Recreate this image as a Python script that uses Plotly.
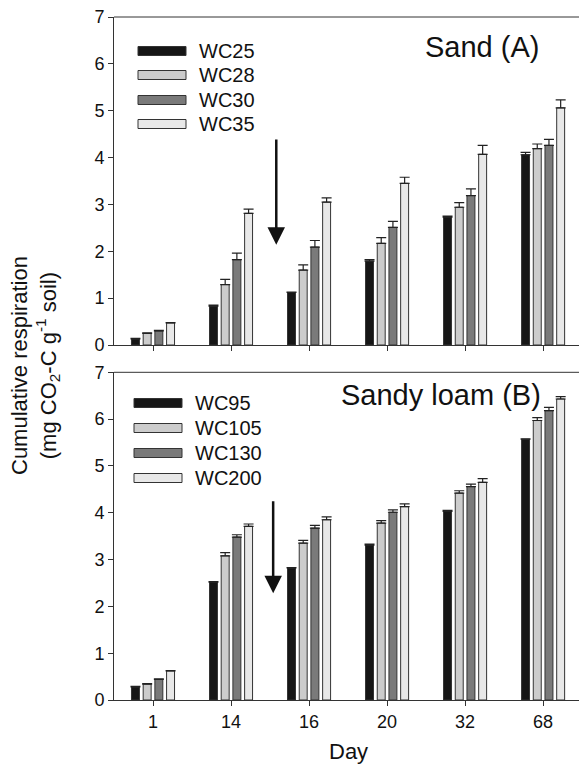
import plotly.graph_objects as go

# ---------------- data ----------------
days = ["1", "14", "16", "20", "32", "68"]

sand_names = ["WC25", "WC28", "WC30", "WC35"]
sand_wc25 = [0.13, 0.83, 1.12, 1.79, 2.73, 4.06]
sand_wc28 = [0.25, 1.29, 1.60, 2.17, 2.94, 4.19]
sand_wc30 = [0.30, 1.82, 2.09, 2.51, 3.19, 4.26]
sand_wc35 = [0.47, 2.81, 3.05, 3.45, 4.07, 5.06]
sand_wc25_err = [0.01, 0.02, 0.01, 0.03, 0.02, 0.05]
sand_wc28_err = [0.01, 0.11, 0.11, 0.12, 0.10, 0.10]
sand_wc30_err = [0.01, 0.14, 0.14, 0.13, 0.14, 0.13]
sand_wc35_err = [0.01, 0.09, 0.09, 0.13, 0.19, 0.17]

loam_names = ["WC95", "WC105", "WC130", "WC200"]
loam_wc95 = [0.28, 2.52, 2.82, 3.31, 4.03, 5.57]
loam_wc105 = [0.34, 3.08, 3.35, 3.78, 4.42, 5.97]
loam_wc130 = [0.44, 3.48, 3.67, 4.01, 4.56, 6.18]
loam_wc200 = [0.62, 3.71, 3.85, 4.13, 4.65, 6.43]
loam_wc95_err = [0.01, 0.01, 0.01, 0.02, 0.02, 0.01]
loam_wc105_err = [0.01, 0.07, 0.06, 0.05, 0.05, 0.06]
loam_wc130_err = [0.01, 0.05, 0.06, 0.05, 0.05, 0.07]
loam_wc200_err = [0.01, 0.05, 0.06, 0.06, 0.08, 0.05]

y_ticks = [0, 1, 2, 3, 4, 5, 6, 7]

colors = ["#161616", "#cccccc", "#7a7a7a", "#e8e8e8"]
outline = "#333333"
FONT = "Liberation Sans, Arial, sans-serif"

# ---------------- layout geometry (pixels) ----------------
W, H = 579, 765
L, R, T, B = 114, 0, 17, 65
PW, PH = W - L - R, H - T - B


def px(x):
    return (x - L) / PW


def py(y):
    return (H - B - y) / PH


fig = go.Figure()

sand_vals = [sand_wc25, sand_wc28, sand_wc30, sand_wc35]
sand_errs = [sand_wc25_err, sand_wc28_err, sand_wc30_err, sand_wc35_err]
loam_vals = [loam_wc95, loam_wc105, loam_wc130, loam_wc200]
loam_errs = [loam_wc95_err, loam_wc105_err, loam_wc130_err, loam_wc200_err]

for i in range(4):
    fig.add_trace(go.Bar(
        x=days, y=sand_vals[i], name=sand_names[i],
        marker=dict(color=colors[i], line=dict(color=outline, width=1)),
        error_y=dict(type="data", symmetric=False, array=sand_errs[i],
                     arrayminus=[0] * len(days), color="#222222",
                     thickness=1.2, width=5),
        xaxis="x", yaxis="y", offsetgroup=str(i), showlegend=False))
for i in range(4):
    fig.add_trace(go.Bar(
        x=days, y=loam_vals[i], name=loam_names[i],
        marker=dict(color=colors[i], line=dict(color=outline, width=1)),
        error_y=dict(type="data", symmetric=False, array=loam_errs[i],
                     arrayminus=[0] * len(days), color="#222222",
                     thickness=1.2, width=5),
        xaxis="x2", yaxis="y2", offsetgroup=str(i), showlegend=False))

top_dom = [py(345), 1.0]
bot_dom = [0.0, py(372.3)]

axis_common = dict(
    type="category", range=[-0.5, 5.46], showline=True, linecolor="#333333",
    linewidth=1, ticks="outside", ticklen=5, tickcolor="#333333",
    showgrid=False, zeroline=False,
    tickfont=dict(family=FONT, size=18, color="#111111"),
)
yaxis_common = dict(
    range=[0, 7], tickvals=y_ticks, showline=True, linecolor="#333333",
    linewidth=1, ticks="outside", ticklen=5, tickcolor="#333333",
    showgrid=False, zeroline=False,
    tickfont=dict(family=FONT, size=18, color="#111111"),
)

shapes = []
# top frame lines for both panels
for yref in ["y domain", "y2 domain"]:
    shapes.append(dict(type="line", xref="paper", yref=yref, x0=0, x1=1.01,
                       y0=1, y1=1, line=dict(color="#333333", width=1)))

annotations = []
# legends (drawn manually)
leg_sets = [
    (sand_names, 138, 186, 197, [51, 75, 100, 124]),
    (loam_names, 134, 182, 193, [403, 428, 453, 478]),
]
for names, x0, x1, xt, ys in leg_sets:
    for i, nm in enumerate(names):
        yc = ys[i]
        shapes.append(dict(type="rect", xref="paper", yref="paper",
                           x0=px(x0), x1=px(x1), y0=py(yc + 4.5), y1=py(yc - 4.5),
                           fillcolor=colors[i], line=dict(color=outline, width=1)))
        annotations.append(dict(x=px(xt), y=py(yc), xref="paper", yref="paper",
                                text=nm, showarrow=False, xanchor="left",
                                yanchor="middle",
                                font=dict(family=FONT, size=20, color="#111111")))

# panel titles
annotations.append(dict(x=px(541), y=py(47), xref="paper", yref="paper",
                        text="Sand (A)", showarrow=False, xanchor="right",
                        yanchor="middle",
                        font=dict(family=FONT, size=29, color="#111111")))
annotations.append(dict(x=px(543), y=py(395), xref="paper", yref="paper",
                        text="Sandy loam (B)", showarrow=False, xanchor="right",
                        yanchor="middle",
                        font=dict(family=FONT, size=29, color="#111111")))

# arrows
annotations.append(dict(x=1.58, y=2.14, ax=1.58, ay=4.42, xref="x", yref="y",
                        axref="x", ayref="y", text="", showarrow=True,
                        arrowhead=2, arrowsize=1.4, arrowwidth=2.5,
                        arrowcolor="#111111"))
annotations.append(dict(x=1.54, y=2.28, ax=1.54, ay=4.28, xref="x2", yref="y2",
                        axref="x2", ayref="y2", text="", showarrow=True,
                        arrowhead=2, arrowsize=1.4, arrowwidth=2.5,
                        arrowcolor="#111111"))

# axis titles
annotations.append(dict(x=px(35), y=py(366), xref="paper", yref="paper",
                        text="Cumulative respiration<br>(mg CO<sub>2</sub>-C g<sup>-1</sup> soil)",
                        showarrow=False, textangle=-90, xanchor="center",
                        yanchor="middle",
                        font=dict(family=FONT, size=22, color="#111111")))
annotations.append(dict(x=px(348), y=py(751), xref="paper", yref="paper",
                        text="Day", showarrow=False, xanchor="center",
                        yanchor="middle",
                        font=dict(family=FONT, size=22, color="#111111")))

fig.update_layout(
    width=W, height=H,
    margin=dict(l=L, r=R, t=T, b=B, pad=0),
    paper_bgcolor="white", plot_bgcolor="white",
    barmode="group", bargap=0.4, bargroupgap=0.32,
    xaxis=dict(**axis_common, domain=[0, 1], anchor="y", showticklabels=False),
    yaxis=dict(**yaxis_common, domain=top_dom, anchor="x"),
    xaxis2=dict(**axis_common, domain=[0, 1], anchor="y2"),
    yaxis2=dict(**yaxis_common, domain=bot_dom, anchor="x2"),
    shapes=shapes, annotations=annotations, showlegend=False,
)

fig.write_html(
    "out.html",
    config={"displayModeBar": False},
    post_script="document.body.style.margin='0';document.body.style.overflow='hidden';",
)
